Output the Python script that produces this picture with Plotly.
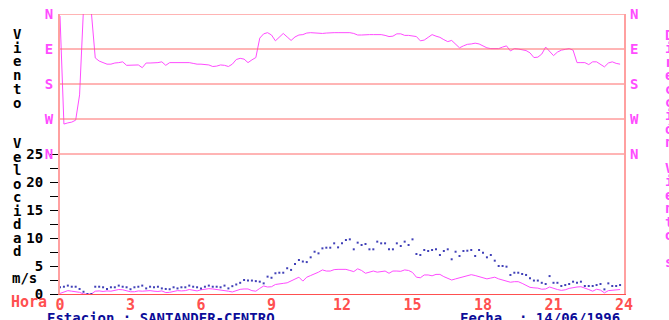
import plotly.graph_objects as go

# 10-minute samples over one day
minutes = list(range(0, 1440, 10))
hours = [m / 60 for m in minutes]

# Wind direction (degrees, 0 = N, values past N at the top wrap out of view)
direction_deg = [
    5, 283, 280, 278, 273, 208, -15, -60, -5, 113,
    121, 126, 129, 129, 126, 125, 123, 132, 132, 132,
    131, 138, 126, 126, 126, 125, 123, 132, 125, 125,
    125, 126, 126, 125, 127, 129, 129, 130, 131, 135,
    134, 131, 132, 135, 129, 117, 114, 116, 125, 118,
    112, 62, 51, 48, 54, 69, 59, 50, 59, 68,
    59, 54, 53, 49, 48, 49, 49, 50, 49, 48,
    48, 48, 48, 48, 48, 50, 54, 54, 53, 53,
    53, 53, 53, 55, 58, 57, 51, 51, 55, 55,
    57, 58, 69, 67, 60, 53, 57, 60, 66, 71,
    68, 77, 87, 82, 78, 77, 75, 77, 82, 87,
    89, 89, 89, 85, 82, 95, 89, 90, 93, 94,
    100, 112, 111, 103, 85, 95, 107, 98, 93, 91,
    89, 93, 125, 125, 125, 130, 123, 123, 130, 136,
    126, 123, 127, 129,
]

# Mean wind speed (m/s)
speed_ms = [
    0.1, 0.4, 0.6, 0.5, 0.4, 0.3, 0.0, 0.0, 0.0, 0.5,
    0.55, 0.45, 0.55, 0.5, 0.6, 0.8, 0.75, 0.55, 0.4, 0.4,
    0.55, 0.5, 0.6, 0.6, 0.5, 0.45, 0.55, 0.25, 0.3, 0.5,
    0.6, 0.55, 0.6, 0.8, 0.65, 0.55, 0.75, 0.9, 0.95, 0.9,
    0.83, 0.75, 0.65, 0.5, 0.36, 0.6, 0.83, 0.9, 0.9, 0.6,
    0.5, 1.0, 1.43, 1.25, 1.3, 1.7, 1.85, 1.9, 2.0, 2.3,
    2.6, 3.0, 2.3, 3.0, 3.3, 3.57, 3.9, 4.3, 4.1, 4.1,
    4.35, 4.4, 4.4, 4.4, 4.2, 4.0, 4.5, 4.2, 3.7, 3.9,
    4.1, 3.9, 4.05, 4.1, 3.7, 4.1, 4.1, 4.05, 4.3, 4.2,
    3.85, 3.0, 2.9, 3.4, 3.4, 3.25, 3.5, 3.5, 3.1, 2.8,
    2.5, 2.7, 2.9, 3.1, 3.35, 3.45, 3.3, 3.1, 2.9, 2.7,
    2.85, 3.0, 2.7, 2.5, 2.3, 2.1, 2.2, 2.2, 1.9, 1.5,
    1.19, 1.1, 1.05, 0.85, 0.9, 1.25, 1.0, 0.8, 0.65, 0.75,
    1.0, 1.19, 1.25, 1.3, 1.1, 0.8, 0.5, 0.85, 0.7, 0.2,
    0.6, 0.71, 0.71, 0.8,
]

# Maximum gust (m/s)
gust_ms = [
    1.2, 1.3, 1.5, 1.3, 1.3, 0.9, 0.4, 0.0, 0.0, 1.3,
    1.3, 1.2, 0.9, 1.2, 1.2, 1.5, 1.3, 1.2, 0.85, 1.2,
    1.3, 1.5, 1.0, 1.3, 1.2, 1.3, 1.0, 0.9, 0.85, 1.2,
    1.0, 1.2, 1.2, 1.5, 1.3, 1.2, 1.0, 1.3, 1.5, 1.3,
    1.3, 1.2, 1.5, 1.0, 1.4, 1.7, 2.0, 2.5, 2.4, 2.4,
    2.3, 2.2, 1.9, 3.1, 2.9, 3.7, 3.8, 3.8, 4.6, 4.3,
    5.36, 6.07, 5.8, 5.7, 6.55, 7.55, 7.26, 8.15, 8.27, 8.27,
    9.05, 8.33, 9.05, 9.64, 9.76, 7.98, 9.17, 8.75, 8.93, 7.98,
    7.98, 9.35, 9.05, 9.05, 7.98, 7.98, 9.05, 8.57, 9.35, 8.75,
    9.76, 7.14, 6.96, 7.86, 7.68, 7.86, 7.98, 6.96, 7.68, 7.98,
    6.2, 7.55, 6.79, 7.68, 7.73, 7.86, 6.79, 7.86, 7.38, 6.55,
    6.96, 5.95, 5.0, 5.0, 4.88, 3.4, 3.8, 3.8, 3.57, 3.4,
    2.8, 2.4, 2.4, 2.0, 1.79, 3.2, 2.0, 2.0, 1.43, 1.6,
    1.79, 2.2, 2.0, 2.2, 1.43, 1.43, 1.43, 1.6, 1.79, 0.83,
    1.9, 1.43, 1.43, 1.6,
]

dir_ticks = [0, 90, 180, 270, 360]
dir_labels = ["N", "E", "S", "W", "N"]
speed_ticks = [0, 2.5, 5, 7.5, 10, 12.5, 15, 17.5, 20, 22.5, 25]
speed_labels = ["0", "", "5", "", "10", "", "15", "", "20", "", "25"]
hour_ticks = [0, 3, 6, 9, 12, 15, 18, 21, 24]

MAGENTA = "#ff4cff"
RED = "#ff5050"
PINK = "#ffa0a0"
GRID = "#ff6a6a"
NAVY = "#4040b8"
TEXT_BLUE = "#0c0c98"
FONT = "DejaVu Sans Mono"

# plot area in pixels
L, R, T, B = 60, 624, 14, 294


def px(x):
    return (x - L) / (R - L)


def py(y):
    return (B - y) / (B - T)


fig = go.Figure()
fig.add_trace(go.Scatter(x=hours, y=direction_deg, yaxis="y2", mode="lines",
                         line=dict(color=MAGENTA, width=1), hoverinfo="skip"))
fig.add_trace(go.Scatter(x=hours, y=speed_ms, mode="lines",
                         line=dict(color=MAGENTA, width=1), hoverinfo="skip"))
fig.add_trace(go.Scatter(x=hours, y=gust_ms, mode="markers",
                         marker=dict(symbol="square", size=2, color=NAVY, line=dict(width=0)),
                         hoverinfo="skip"))

annotations = []


def stack(text, x, y0, step, color):
    for k, ch in enumerate(text):
        if ch == " ":
            continue
        annotations.append(dict(
            text=ch, x=px(x), y=py(y0 + k * step), xref="paper", yref="paper",
            xanchor="center", yanchor="middle", showarrow=False,
            font=dict(family=FONT, size=14, color=color, weight="bold")))


stack("Viento", 17, 34, 13.7, "black")
stack("Velocidad", 17, 143, 13.5, "black")
stack("Dirección", 669, 35, 13.4, MAGENTA)
stack("Viento s", 669, 168, 13.4, MAGENTA)

annotations.append(dict(text="m/s", x=px(24), y=py(278), xref="paper", yref="paper",
                        xanchor="center", yanchor="middle", showarrow=False,
                        font=dict(family=FONT, size=14, color="black", weight="bold")))
annotations.append(dict(text="Hora", x=px(29), y=py(302), xref="paper", yref="paper",
                        xanchor="center", yanchor="middle", showarrow=False,
                        font=dict(family=FONT, size=15, color=RED, weight="bold")))
annotations.append(dict(text="Estacion : SANTANDER-CENTRO", x=px(45), y=py(318),
                        xref="paper", yref="paper", xanchor="left", yanchor="middle",
                        showarrow=False,
                        font=dict(family=FONT, size=14, color=TEXT_BLUE, weight="bold")))
annotations.append(dict(text="Fecha  : 14/06/1996", x=px(458), y=py(318),
                        xref="paper", yref="paper", xanchor="left", yanchor="middle",
                        showarrow=False,
                        font=dict(family=FONT, size=14, color=TEXT_BLUE, weight="bold")))

# compass labels repeated on the right-hand side
for v, lab in zip(dir_ticks, dir_labels):
    annotations.append(dict(text=lab, x=px(634), y=v, xref="paper", yref="y2",
                            xanchor="center", yanchor="middle", showarrow=False,
                            font=dict(family=FONT, size=14, color=MAGENTA, weight="bold")))

# compass reference lines across the direction panel; the lowest one is the
# boundary between the two panels
shapes = [dict(type="line", xref="paper", x0=0, x1=1, yref="y2", y0=v, y1=v,
               line=dict(color=GRID, width=1), layer="above") for v in dir_ticks[:-1]]
shapes.append(dict(type="line", xref="paper", x0=0, x1=1, yref="paper", y0=0.5, y1=0.5,
                   line=dict(color=GRID, width=1), layer="above"))

fig.update_layout(
    width=669, height=320, autosize=False,
    margin=dict(l=L, r=669 - R, t=T, b=320 - B, pad=0, autoexpand=False),
    paper_bgcolor="white", plot_bgcolor="rgba(0,0,0,0)", showlegend=False,
    font=dict(family=FONT, size=14),
    annotations=annotations, shapes=shapes,
    xaxis=dict(range=[0, 24], tickvals=hour_ticks, ticks="", showgrid=False,
               zeroline=False, showline=True, linecolor=RED, linewidth=1,
               automargin=False, ticklabelstandoff=-3,
               tickfont=dict(color=RED, size=15, weight="bold"), anchor="y"),
    yaxis=dict(domain=[0, 0.5], range=[0, 25], tickvals=speed_ticks, ticktext=speed_labels,
               ticks="outside", ticklen=8, tickcolor="black", tickwidth=1,
               showgrid=False, zeroline=False, showline=True, linecolor=PINK,
               linewidth=2, mirror=True, ticklabelstandoff=4, automargin=False,
               tickfont=dict(color="black", size=14, weight="bold")),
    yaxis2=dict(domain=[0.5, 1], range=[360, 0], tickvals=dir_ticks, ticktext=dir_labels,
                ticks="", showgrid=False, zeroline=False,
                showline=True, linecolor=PINK, linewidth=2, mirror=True, anchor="x",
                ticklabelstandoff=2, automargin=False,
                tickfont=dict(color=MAGENTA, size=14, weight="bold")),
)

fig.write_html("out.html")
